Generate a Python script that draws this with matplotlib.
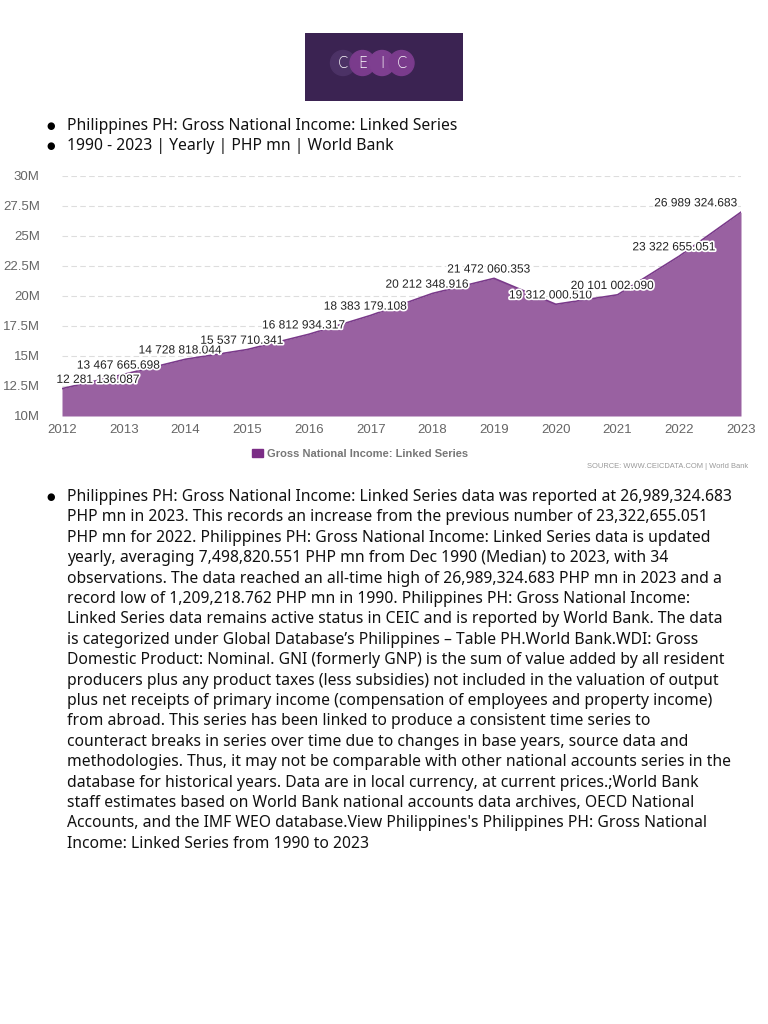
import matplotlib.pyplot as plt
import matplotlib.patheffects as pe
from matplotlib.patches import Rectangle, Circle, Patch
from matplotlib.ticker import FuncFormatter

years = [2012, 2013, 2014, 2015, 2016, 2017, 2018, 2019, 2020, 2021, 2022, 2023]
gni = [12281136.087, 13467665.698, 14728818.044, 15537710.341, 16812934.317,
       18383179.108, 20212348.916, 21472060.353, 19312000.510, 20101002.090,
       23322655.051, 26989324.683]
value_labels = ["12 281 136.087", "13 467 665.698", "14 728 818.044", "15 537 710.341",
                "16 812 934.317", "18 383 179.108", "20 212 348.916", "21 472 060.353",
                "19 312 000.510", "20 101 002.090", "23 322 655.051", "26 989 324.683"]
yticks = [10e6, 12.5e6, 15e6, 17.5e6, 20e6, 22.5e6, 25e6, 27.5e6, 30e6]

header = ["Philippines PH: Gross National Income: Linked Series",
          "1990 - 2023 | Yearly | PHP mn | World Bank"]
body = [
    "Philippines PH: Gross National Income: Linked Series data was reported at 26,989,324.683",
    "PHP mn in 2023. This records an increase from the previous number of 23,322,655.051",
    "PHP mn for 2022. Philippines PH: Gross National Income: Linked Series data is updated",
    "yearly, averaging 7,498,820.551 PHP mn from Dec 1990 (Median) to 2023, with 34",
    "observations. The data reached an all-time high of 26,989,324.683 PHP mn in 2023 and a",
    "record low of 1,209,218.762 PHP mn in 1990. Philippines PH: Gross National Income:",
    "Linked Series data remains active status in CEIC and is reported by World Bank. The data",
    "is categorized under Global Database\u2019s Philippines \u2013 Table PH.World Bank.WDI: Gross",
    "Domestic Product: Nominal. GNI (formerly GNP) is the sum of value added by all resident",
    "producers plus any product taxes (less subsidies) not included in the valuation of output",
    "plus net receipts of primary income (compensation of employees and property income)",
    "from abroad. This series has been linked to produce a consistent time series to",
    "counteract breaks in series over time due to changes in base years, source data and",
    "methodologies. Thus, it may not be comparable with other national accounts series in the",
    "database for historical years. Data are in local currency, at current prices.;World Bank",
    "staff estimates based on World Bank national accounts data archives, OECD National",
    "Accounts, and the IMF WEO database.View Philippines's Philippines PH: Gross National",
    "Income: Linked Series from 1990 to 2023",
]

W, H = 768, 1024
fig = plt.figure(figsize=(W / 100, H / 100), dpi=100)
fig.patch.set_facecolor("white")

def fx(px):
    return px / W

def fy(py):
    return 1 - py / H

# logo
logo = fig.add_axes([fx(305), fy(101), fx(158), 68 / H])
logo.set_xlim(0, 158)
logo.set_ylim(0, 68)
logo.axis("off")
logo.add_patch(Rectangle((0, 0), 158, 68, color="#3b2352"))
circle_cols = ["#4c3266", "#7a3b8c", "#7e3f90", "#7a3b8c"]
for i, (ch, c) in enumerate(zip("CEIC", circle_cols)):
    cx = 38 + i * 19.5
    logo.add_patch(Circle((cx, 38), 12.5, color=c))
    logo.text(cx, 38, ch, color="white", fontsize=10.5, ha="center", va="center",
              family="DejaVu Sans", fontweight="light")

# header bullets
for i, line in enumerate(header):
    y = 126 + i * 20
    fig.text(fx(51), fy(y), "\u25cf", fontsize=7, ha="center", va="center", color="black")
    fig.text(fx(67), fy(y), line, fontsize=11.3, ha="left", va="center",
             family="Noto Sans", color="#111111")

# chart
ax = fig.add_axes([fx(62), fy(416), fx(741 - 62), 240 / H])
ax.fill_between(years, gni, 10e6, color="#9961a1", linewidth=0)
ax.plot(years, gni, color="#7a3a8a", linewidth=1.2)
ax.set_xlim(2012, 2023)
ax.set_ylim(10e6, 30e6)
ax.set_yticks(yticks)
ax.yaxis.set_major_formatter(FuncFormatter(lambda v, p: f"{v / 1e6:g}M"))
ax.set_xticks(years)
ax.grid(axis="y", color="#dddddd", linestyle=(0, (5, 3)), linewidth=0.8)
ax.set_axisbelow(True)
for s in ax.spines.values():
    s.set_visible(False)
ax.tick_params(length=0, labelsize=9.5, labelcolor="#666666",
               labelfontfamily="Liberation Sans")
ax.tick_params(axis="y", pad=16)
ax.tick_params(axis="x", pad=6)

halo = [pe.withStroke(linewidth=2.5, foreground="white")]
last = len(years) - 1
for i, (x, v, lab) in enumerate(zip(years, gni, value_labels)):
    if i == 0:
        ha, dx = "left", -4
    elif i == last:
        ha, dx = "right", -3
    else:
        ha, dx = "center", -4
    ax.annotate(lab, (x, v), xytext=(dx, 2), textcoords="offset points",
                ha=ha, va="bottom", fontsize=8.6, color="#222222",
                family="Liberation Sans", path_effects=halo, annotation_clip=False)

# legend and source
fig.legend(handles=[Patch(color="#7b2d86", label="Gross National Income: Linked Series")],
           loc="center", bbox_to_anchor=(fx(360), fy(454)), frameon=False,
           handlelength=1.0, handleheight=0.7, handletextpad=0.3,
           prop={"family": "Liberation Sans", "weight": "bold", "size": 8},
           labelcolor="#777777")
fig.text(fx(748), fy(466), "SOURCE: WWW.CEICDATA.COM | World Bank", fontsize=5.4,
         color="#999999", ha="right", va="center", family="Liberation Sans")

# body paragraph
fig.text(fx(51), fy(497), "\u25cf", fontsize=7, ha="center", va="center", color="black")
for i, line in enumerate(body):
    fig.text(fx(67), fy(497 + i * 20.4), line, fontsize=11.3, ha="left", va="center",
             family="Noto Sans", color="#111111")

fig.savefig("out.png", dpi=100)
